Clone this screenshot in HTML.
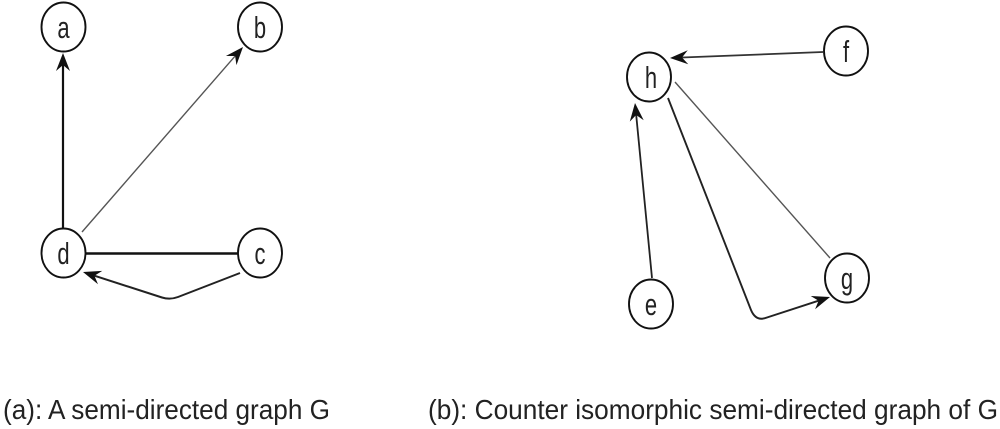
<!DOCTYPE html>
<html>
<head>
<meta charset="utf-8">
<style>
  html, body { margin:0; padding:0; background:#fff; }
  svg { display:block; }
  .node { fill:#fff; stroke:#111; stroke-width:1.9; }
  .lbl { font-family:"Liberation Sans", Arial, sans-serif; font-size:22px; fill:#222; text-anchor:middle; }
  .cap { font-family:"Liberation Sans", Arial, sans-serif; font-size:25px; fill:#222; }
</style>
</head>
<body>
<svg width="1000" height="429" viewBox="0 0 1000 429" xmlns="http://www.w3.org/2000/svg">
  <!-- Graph (a) edges -->
  <!-- d -> a -->
  <line x1="63" y1="228" x2="63" y2="65" stroke="#111" stroke-width="2.2"/>
  <polygon points="63,53 70,71 63,65 56,71" fill="#111"/>
  <!-- d -> b -->
  <line x1="82" y1="232" x2="235.1" y2="56.1" stroke="#555" stroke-width="1.4"/>
  <polygon points="243,47 236.46,65.18 235.12,56.05 225.9,55.98" fill="#111"/>
  <!-- d - c -->
  <line x1="86" y1="253.5" x2="238" y2="253.5" stroke="#111" stroke-width="2.6"/>
  <!-- c -> d curve -->
  <path d="M240,273 L178,297 Q170,300 162,297.5 L94.4,275.7" fill="none" stroke="#222" stroke-width="2"/>
  <polygon points="83,272 98.0,284.2 94.4,275.7 102.28,270.85" fill="#111"/>

  <!-- Graph (b) edges -->
  <!-- f -> h -->
  <line x1="823" y1="52" x2="682" y2="57.5" stroke="#333" stroke-width="1.8"/>
  <polygon points="670,58 688.26,64.28 682,57.53 687.72,50.30" fill="#111"/>
  <!-- e -> h -->
  <line x1="652" y1="278" x2="636.2" y2="115" stroke="#222" stroke-width="1.8"/>
  <polygon points="635,103 643.71,120.24 636.16,114.94 629.77,121.6" fill="#111"/>
  <!-- h - g -->
  <line x1="675" y1="82" x2="830" y2="258" stroke="#555" stroke-width="1.4"/>
  <!-- h -> g curve -->
  <path d="M668,98 L751,310 Q756,322 767,317.5 L818.6,300.7" fill="none" stroke="#222" stroke-width="1.9"/>
  <polygon points="830,297 815.08,309.25 818.6,300.74 810.72,295.95" fill="#111"/>

  <!-- Nodes (a) -->
  <ellipse class="node" cx="63.5" cy="27" rx="22" ry="24.5"/>
  <ellipse class="node" cx="260" cy="27" rx="22" ry="24.5"/>
  <ellipse class="node" cx="63.5" cy="253" rx="22" ry="24.5"/>
  <ellipse class="node" cx="260" cy="253" rx="22" ry="24.5"/>
  <!-- Nodes (b) -->
  <ellipse class="node" cx="649" cy="77" rx="22" ry="24.5"/>
  <ellipse class="node" cx="846" cy="51" rx="22" ry="24.5"/>
  <ellipse class="node" cx="651" cy="304" rx="22" ry="24.5"/>
  <ellipse class="node" cx="847" cy="278" rx="22" ry="24.5"/>

  <!-- Node labels (vertically stretched) -->
  <text class="lbl" transform="translate(63.5,38) scale(1,1.4)">a</text>
  <text class="lbl" transform="translate(260,38) scale(1,1.4)">b</text>
  <text class="lbl" transform="translate(63.5,264) scale(1,1.4)">d</text>
  <text class="lbl" transform="translate(260,264) scale(1,1.4)">c</text>
  <text class="lbl" transform="translate(651,88) scale(1,1.4)">h</text>
  <text class="lbl" transform="translate(846,62) scale(1,1.4)">f</text>
  <text class="lbl" transform="translate(651,315) scale(1,1.4)">e</text>
  <text class="lbl" transform="translate(847,289) scale(1,1.4)">g</text>

  <!-- Captions -->
  <text class="cap" transform="translate(3,419) scale(1,1.12)" x="0" y="0" textLength="327" lengthAdjust="spacingAndGlyphs">(a): A semi-directed graph G</text>
  <text class="cap" transform="translate(428,419) scale(1,1.12)" x="0" y="0" textLength="570" lengthAdjust="spacingAndGlyphs">(b): Counter isomorphic semi-directed graph of G</text>
</svg>
</body>
</html>
